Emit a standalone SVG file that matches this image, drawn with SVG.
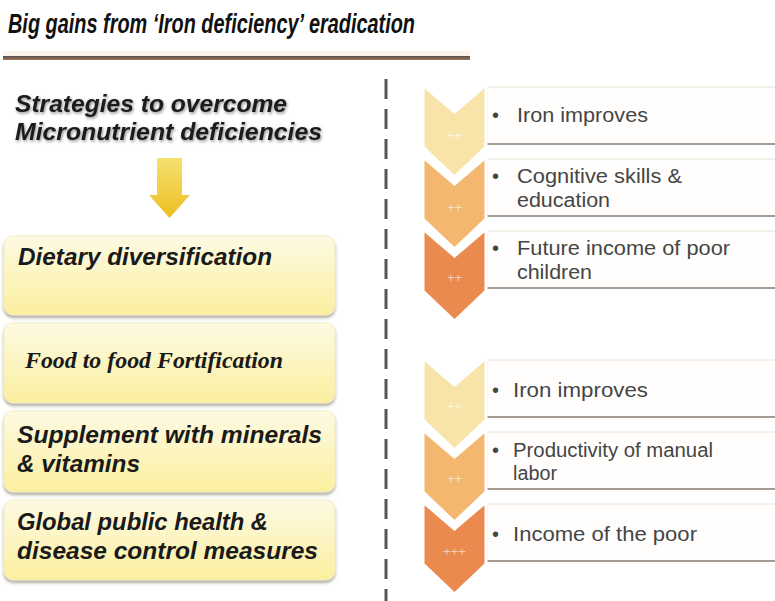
<svg xmlns="http://www.w3.org/2000/svg" width="775" height="601" viewBox="0 0 775 601">
  <defs>
    <linearGradient id="boxGrad" x1="0" y1="0" x2="0" y2="1">
      <stop offset="0" stop-color="#fdfae4"/>
      <stop offset="1" stop-color="#fbef9e"/>
    </linearGradient>
    <linearGradient id="arrowGrad" x1="0" y1="0" x2="0" y2="1">
      <stop offset="0" stop-color="#f6e070"/>
      <stop offset="1" stop-color="#edbf22"/>
    </linearGradient>
    <linearGradient id="ruleGrad" x1="0" y1="0" x2="0" y2="1">
      <stop offset="0" stop-color="#555050"/>
      <stop offset="1" stop-color="#a07458"/>
    </linearGradient>
    <filter id="boxShadow" x="-5%" y="-10%" width="110%" height="130%">
      <feDropShadow dx="0" dy="2.5" stdDeviation="1.5" flood-color="#6e6a55" flood-opacity="0.55"/>
    </filter>
    <filter id="textShadow" x="-5%" y="-30%" width="110%" height="160%">
      <feDropShadow dx="1" dy="1.5" stdDeviation="1.5" flood-color="#000" flood-opacity="0.45"/>
    </filter>
  </defs>
  <style>
    .title { font-family: "Liberation Sans", Arial, sans-serif; font-weight: bold; font-style: italic; font-size: 27px; fill: #111; }
    .lt { font-family: "Liberation Sans", Arial, sans-serif; font-weight: bold; font-style: italic; font-size: 23px; fill: #1a1a1a; }
    .serif { font-family: "Liberation Serif", "Times New Roman", serif; font-weight: bold; font-style: italic; font-size: 23px; fill: #1a1a1a; }
    .box { fill: url(#boxGrad); stroke: #f3ecc4; stroke-width: 1; filter: url(#boxShadow); }
    .rt { font-family: "Liberation Sans", Arial, sans-serif; font-size: 20px; fill: #454545; }
    .chev { stroke: #ffffff; stroke-width: 3; stroke-linejoin: miter; }
    .c1 { fill: #f8e4a8; }
    .c2 { fill: #f3b770; }
    .c3 { fill: #ea8a4f; }
    .clabel { font-family: "Liberation Sans", Arial, sans-serif; font-size: 13px; fill: #ffffff; fill-opacity: 0.6; text-anchor: middle; }
    .rbox { fill: #fffefc; stroke: #ece3d6; stroke-width: 1; }
    .rline { stroke: #a59b92; stroke-width: 2; }
  </style>

  <rect x="0" y="0" width="775" height="601" fill="#ffffff"/>

  <!-- Title -->
  <g id="title">
    <text class="title" x="8" y="33" textLength="407" lengthAdjust="spacingAndGlyphs">Big gains from ‘Iron deficiency’ eradication</text>
    <rect x="3" y="51" width="467" height="5" fill="#fbeee2" opacity="0.7"/>
    <rect x="3" y="56" width="467" height="4" fill="url(#ruleGrad)"/>
  </g>

  <!-- Divider -->
  <g id="divider">
    <line x1="386" y1="79" x2="386" y2="601" stroke="#555555" stroke-width="3" stroke-dasharray="20 10"/>
  </g>

  <!-- Left heading -->
  <g id="heading" filter="url(#textShadow)">
    <text class="lt" x="15" y="112" textLength="272" lengthAdjust="spacingAndGlyphs">Strategies to overcome</text>
    <text class="lt" x="15" y="140" textLength="307" lengthAdjust="spacingAndGlyphs">Micronutrient deficiencies</text>
  </g>

  <!-- Left boxes -->
  <g id="box-dietary">
    <rect class="box" x="4" y="236" width="331" height="79" rx="9"/>
    <text class="lt" x="18" y="265" textLength="254" lengthAdjust="spacingAndGlyphs">Dietary diversification</text>
  </g>
  <g id="box-fortification">
    <rect class="box" x="4" y="323" width="331" height="80" rx="9"/>
    <text class="serif" x="25" y="368" textLength="258" lengthAdjust="spacingAndGlyphs">Food to food Fortification</text>
  </g>
  <g id="box-supplement">
    <rect class="box" x="4" y="411" width="331" height="81" rx="9"/>
    <text class="lt" x="17" y="443" textLength="305" lengthAdjust="spacingAndGlyphs">Supplement with minerals</text>
    <text class="lt" x="17" y="472" textLength="123" lengthAdjust="spacingAndGlyphs">&amp; vitamins</text>
  </g>
  <g id="box-public-health">
    <rect class="box" x="4" y="500" width="331" height="80" rx="9"/>
    <text class="lt" x="17" y="530" textLength="251" lengthAdjust="spacingAndGlyphs">Global public health &amp;</text>
    <text class="lt" x="17" y="559" textLength="301" lengthAdjust="spacingAndGlyphs">disease control measures</text>
  </g>

  <!-- Connectors -->
  <g id="connectors">
    <path d="M157,158 L182,158 L182,195 L190,195 L169.5,218 L149,195 L157,195 Z" fill="url(#arrowGrad)"/>
  </g>

  <!-- Right: top chain -->
  <g id="chain-children">
    <g id="step-iron-1">
      <rect class="rbox" x="487" y="87" width="295" height="57"/>
      <line class="rline" x1="487" y1="144" x2="775" y2="144"/>
      <path class="chev c1" d="M423,85 L454.5,112 L486,85 L486,147 L454.5,177 L423,147 Z"/>
      <text class="clabel" x="454.5" y="140">++</text>
      <text class="rt" x="492" y="122">•</text>
      <text class="rt" x="517" y="122" textLength="131" lengthAdjust="spacingAndGlyphs">Iron improves</text>
    </g>
    <g id="step-cognitive">
      <rect class="rbox" x="487" y="159" width="295" height="57"/>
      <line class="rline" x1="487" y1="216" x2="775" y2="216"/>
      <path class="chev c2" d="M423,157 L454.5,184 L486,157 L486,219 L454.5,249 L423,219 Z"/>
      <text class="clabel" x="454.5" y="212">++</text>
      <text class="rt" x="492" y="183">•</text>
      <text class="rt" x="517" y="183" textLength="165" lengthAdjust="spacingAndGlyphs">Cognitive skills &amp;</text>
      <text class="rt" x="517" y="207" textLength="93" lengthAdjust="spacingAndGlyphs">education</text>
    </g>
    <g id="step-future-income">
      <rect class="rbox" x="487" y="231" width="295" height="57"/>
      <line class="rline" x1="487" y1="288" x2="775" y2="288"/>
      <path class="chev c3" d="M423,229 L454.5,256 L486,229 L486,291 L454.5,321 L423,291 Z"/>
      <text class="clabel" x="454.5" y="282">++</text>
      <text class="rt" x="492" y="255">•</text>
      <text class="rt" x="517" y="255" textLength="213" lengthAdjust="spacingAndGlyphs">Future income of poor</text>
      <text class="rt" x="517" y="279" textLength="75" lengthAdjust="spacingAndGlyphs">children</text>
    </g>
  </g>

  <!-- Right: bottom chain -->
  <g id="chain-labor">
    <g id="step-iron-2">
      <rect class="rbox" x="487" y="360" width="295" height="57"/>
      <line class="rline" x1="487" y1="417" x2="775" y2="417"/>
      <path class="chev c1" d="M423,358 L454.5,385 L486,358 L486,420 L454.5,450 L423,420 Z"/>
      <text class="clabel" x="454.5" y="411">++</text>
      <text class="rt" x="492" y="397">•</text>
      <text class="rt" x="513" y="397" textLength="135" lengthAdjust="spacingAndGlyphs">Iron improves</text>
    </g>
    <g id="step-productivity">
      <rect class="rbox" x="487" y="432" width="295" height="57"/>
      <line class="rline" x1="487" y1="489" x2="775" y2="489"/>
      <path class="chev c2" d="M423,430 L454.5,457 L486,430 L486,492 L454.5,522 L423,492 Z"/>
      <text class="clabel" x="454.5" y="483">++</text>
      <text class="rt" x="492" y="457">•</text>
      <text class="rt" x="513" y="457" textLength="200" lengthAdjust="spacingAndGlyphs">Productivity of manual</text>
      <text class="rt" x="513" y="480" textLength="44" lengthAdjust="spacingAndGlyphs">labor</text>
    </g>
    <g id="step-income-poor">
      <rect class="rbox" x="487" y="504" width="295" height="57"/>
      <line class="rline" x1="487" y1="561" x2="775" y2="561"/>
      <path class="chev c3" d="M423,502 L454.5,529 L486,502 L486,564 L454.5,594 L423,564 Z"/>
      <text class="clabel" x="454.5" y="556">+++</text>
      <text class="rt" x="492" y="541">•</text>
      <text class="rt" x="513" y="541" textLength="184" lengthAdjust="spacingAndGlyphs">Income of the poor</text>
    </g>
  </g>
</svg>
